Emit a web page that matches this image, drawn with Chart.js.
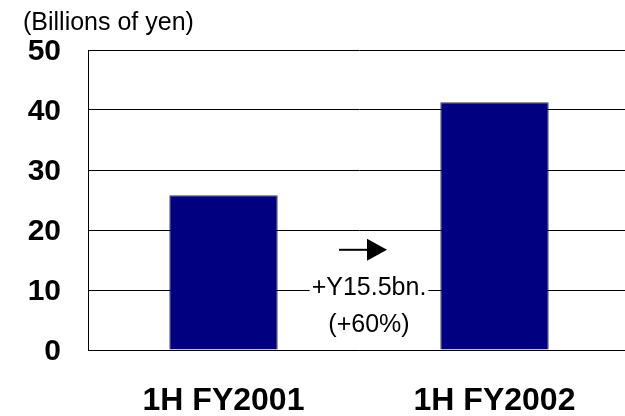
<!DOCTYPE html>
<html>
<head>
<meta charset="utf-8">
<script src="https://cdn.jsdelivr.net/npm/chart.js@4.4.0/dist/chart.umd.min.js"></script>
<style>
  html, body { margin: 0; padding: 0; background: #fff; overflow: hidden; }
  #wrap { position: relative; width: 632px; height: 416px; }
</style>
</head>
<body>
<div id="wrap"><canvas id="myChart"></canvas></div>
<script>
// data
const categories = ['1H FY2001', '1H FY2002'];
const profit = [25.8, 41.3];
const yTicks = [0, 10, 20, 30, 40, 50];
const unitLabel = '(Billions of yen)';
const changeLines = ['+Y15.5bn.', '(+60%)'];
const arrowLevel = 16.7;
const changeLevels = [10.3, 4.1];

// arrow + change text between the two bars
const changeNote = {
    id: 'changeNote',
    afterDatasetsDraw(chart) {
        const ctx = chart.ctx;
        const xs = chart.scales.x, ys = chart.scales.y;
        const cx = (xs.getPixelForValue(0) + xs.getPixelForValue(1)) / 2;

        ctx.save();
        // arrow
        const ay = ys.getPixelForValue(arrowLevel);
        ctx.strokeStyle = '#000';
        ctx.fillStyle = '#000';
        ctx.lineWidth = 2;
        ctx.beginPath();
        ctx.moveTo(cx - 20, ay);
        ctx.lineTo(cx + 9, ay);
        ctx.stroke();
        ctx.beginPath();
        ctx.moveTo(cx + 8, ay - 11);
        ctx.lineTo(cx + 28, ay);
        ctx.lineTo(cx + 8, ay + 11);
        ctx.closePath();
        ctx.fill();

        // text
        ctx.font = '25px "Liberation Sans", Arial, sans-serif';
        ctx.textAlign = 'center';
        ctx.textBaseline = 'middle';
        const tx = cx + 10;
        changeLines.forEach((t, i) => {
            const ty = ys.getPixelForValue(changeLevels[i]);
            const w = ctx.measureText(t).width;
            ctx.fillStyle = '#fff';
            ctx.fillRect(tx - w / 2 - 2, ty - 12, w + 4, 24);
            ctx.fillStyle = '#000';
            ctx.fillText(t, tx, ty);
        });
        ctx.restore();
    }
};

const ctx1 = document.getElementById('myChart');
const myChart = new Chart(ctx1, {
    type: 'bar',
    data: {
        labels: categories,
        datasets: [{
            data: profit,
            backgroundColor: '#000080',
            borderColor: '#404040',
            borderWidth: 1,
            barPercentage: 0.4,
            categoryPercentage: 1.0
        }]
    },
    options: {
        responsive: true,
        maintainAspectRatio: false,
        animation: false,
        layout: { padding: { left: 23, top: 0, right: 2, bottom: 1 } },
        plugins: {
            legend: { display: false },
            tooltip: { enabled: false },
            title: {
                display: true,
                text: unitLabel,
                align: 'start',
                color: '#000',
                font: { family: '"Liberation Sans", Arial, sans-serif', size: 25, weight: 'normal', lineHeight: 1.2 },
                padding: { top: 8, bottom: 12 }
            }
        },
        scales: {
            x: {
                grid: { display: false, drawTicks: false },
                border: { display: true, color: '#000', width: 1 },
                afterFit: (scale) => { scale.height = 65; },
                ticks: {
                    color: '#000',
                    padding: 35,
                    maxRotation: 0,
                    font: { family: '"Liberation Sans", Arial, sans-serif', size: 32, weight: 'bold', lineHeight: 1 }
                }
            },
            y: {
                min: 0,
                max: 50,
                afterBuildTicks: (scale) => { scale.ticks = yTicks.map(v => ({ value: v })); },
                afterFit: (scale) => { scale.width = 65; },
                grid: { color: '#000', lineWidth: 1, drawTicks: false },
                border: { display: true, color: '#000', width: 1 },
                ticks: {
                    color: '#000',
                    padding: 27,
                    labelOffset: 2,
                    font: { family: '"Liberation Sans", Arial, sans-serif', size: 30, weight: 'bold', lineHeight: 1.2 }
                }
            }
        }
    },
    plugins: [changeNote]
});
</script>
</body>
</html>
